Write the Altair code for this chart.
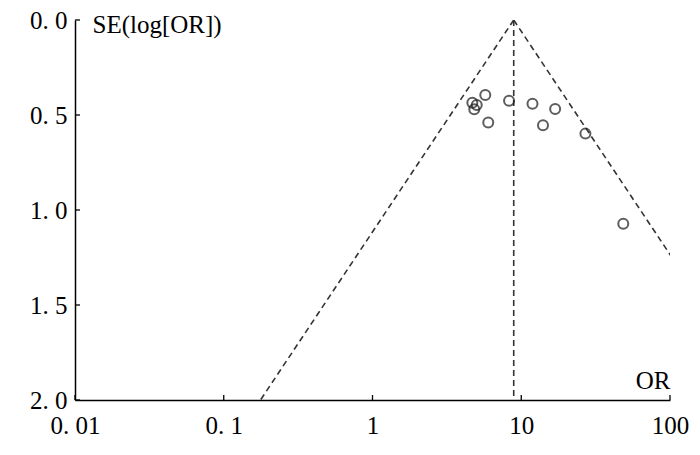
import math
import altair as alt
import pandas as pd

# Study data
or_vals = [4.69, 5.02, 4.83, 5.73, 6.0, 8.28, 11.9, 16.9, 14.0, 27.0, 48.5]
se_vals = [0.435, 0.447, 0.470, 0.395, 0.540, 0.425, 0.441, 0.468, 0.554, 0.598, 1.072]

pooled_or = 8.9
se_max = 2.0
z = 1.96

x_ticks = [0.01, 0.1, 1, 10, 100]
x_tick_labels = ["0. 01", "0. 1", "1", "10", "100"]
y_ticks = [0.0, 0.5, 1.0, 1.5, 2.0]
y_tick_labels = ["0. 0", "0. 5", "1. 0", "1. 5", "2. 0"]

FONT = "Liberation Serif"
FS = 25
W, H = 595, 380

pts = pd.DataFrame({"OR": or_vals, "SE": se_vals})

lines = pd.DataFrame({
    "x": [pooled_or, pooled_or, pooled_or],
    "y": [0.0, 0.0, 0.0],
    "x2": [pooled_or * math.exp(-z * se_max), pooled_or * math.exp(z * se_max), pooled_or],
    "y2": [se_max, se_max, se_max],
})

xt = pd.DataFrame({"t": x_ticks})
yt = pd.DataFrame({"t": y_ticks})

def js_list(vals, quote=False):
    if quote:
        return "[" + ",".join("'" + v + "'" for v in vals) + "]"
    return "[" + ",".join(repr(v) for v in vals) + "]"

x_label_expr = f"{js_list(x_tick_labels, True)}[indexof({js_list(x_ticks)}, datum.value)]"
y_label_expr = f"{js_list(y_tick_labels, True)}[indexof({js_list(y_ticks)}, datum.value)]"

x_scale = alt.Scale(type="log", domain=[0.01, 100], nice=False)
y_scale = alt.Scale(domain=[0, 2], reverse=True, nice=False)

x_axis = alt.Axis(
    values=x_ticks, labelExpr=x_label_expr, title="OR", grid=False, ticks=False,
    labelFont=FONT, labelFontSize=FS, labelColor="black", labelPadding=13,
    domainColor="black", domainWidth=1.5,
    titleFont=FONT, titleFontSize=FS, titleFontWeight="normal", titleColor="black",
    titleX=W, titleY=-12, titleAlign="right", titleBaseline="alphabetic",
    labelFlush=False, labelOverlap=False,
)
y_axis = alt.Axis(
    values=y_ticks, labelExpr=y_label_expr, title="SE(log[OR])", grid=False, ticks=False,
    labelFont=FONT, labelFontSize=FS, labelColor="black", labelPadding=8,
    domainColor="black", domainWidth=1.5,
    titleFont=FONT, titleFontSize=FS, titleFontWeight="normal", titleColor="black",
    titleAngle=0, titleX=17, titleY=12, titleAlign="left", titleBaseline="alphabetic",
    labelFlush=False, labelOverlap=False,
)

funnel = alt.Chart(lines).mark_rule(
    color="#333333", strokeDash=[6, 4], strokeWidth=1.6, clip=True
).encode(
    x=alt.X("x:Q", scale=x_scale, axis=x_axis),
    y=alt.Y("y:Q", scale=y_scale, axis=y_axis),
    x2="x2:Q",
    y2="y2:Q",
)

# inward tick marks
x_tick_marks = alt.Chart(xt).mark_rule(color="black", strokeWidth=1.3).encode(
    x=alt.X("t:Q", scale=x_scale),
    y=alt.value(H),
    y2=alt.value(H - 5),
)
y_tick_marks = alt.Chart(yt).mark_rule(color="black", strokeWidth=1.3).encode(
    y=alt.Y("t:Q", scale=y_scale),
    x=alt.value(0),
    x2=alt.value(5),
)

points = alt.Chart(pts).mark_point(
    shape="circle", filled=False, color="#1a1a1a", size=100, strokeWidth=2
).encode(
    x=alt.X("OR:Q", scale=x_scale),
    y=alt.Y("SE:Q", scale=y_scale),
)

chart = alt.layer(funnel, x_tick_marks, y_tick_marks, points).properties(
    width=W, height=H,
    autosize=alt.AutoSizeParams(type="none"),
    padding={"left": 67, "top": 12, "right": 22, "bottom": 47},
    background="white",
).configure_view(stroke=None)

chart.save("out.html", embed_options={"renderer": "svg", "actions": False})
